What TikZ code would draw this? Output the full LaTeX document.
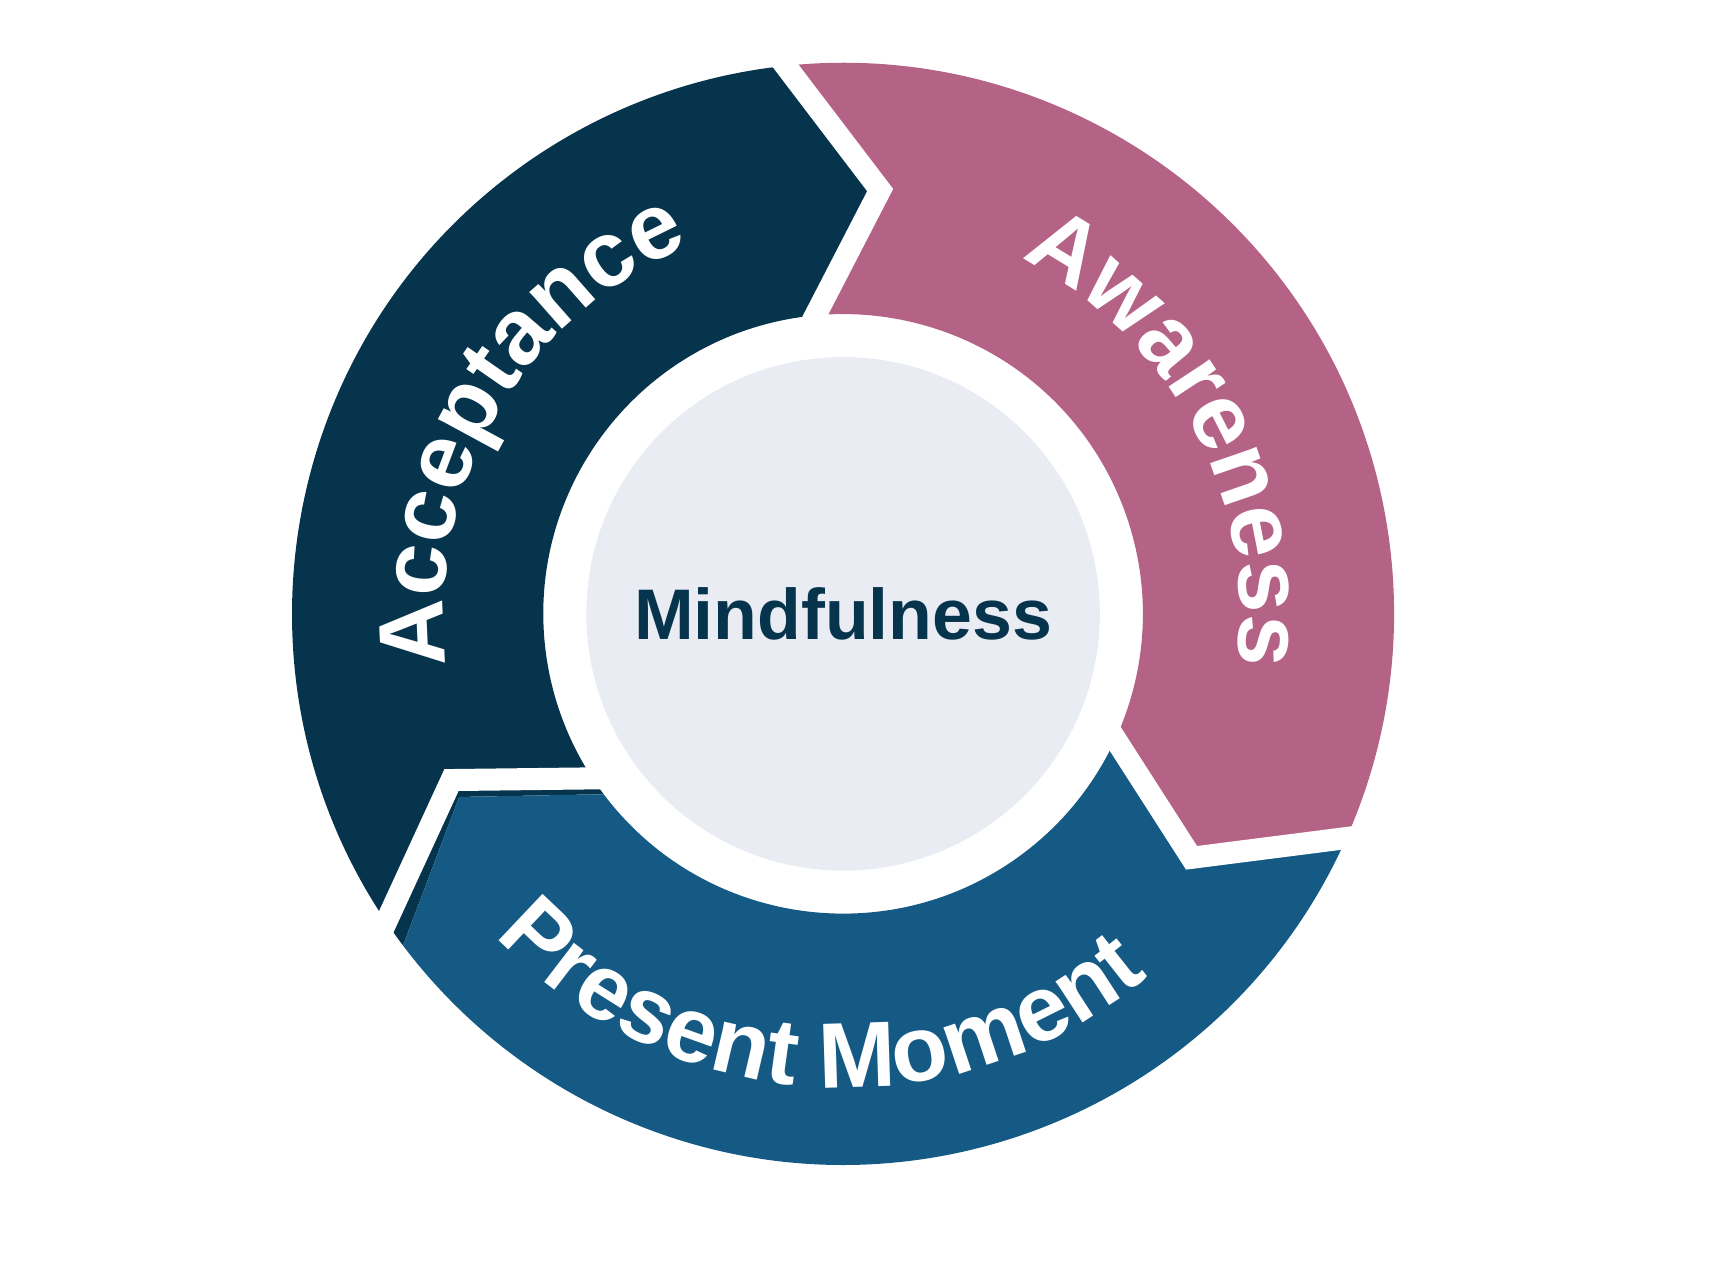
\documentclass[tikz,border=0pt]{standalone}
\usepackage{fontspec}
\setmainfont{Liberation Sans}
\usetikzlibrary{decorations.text}
\definecolor{accblue}{HTML}{06344C}
\definecolor{awapink}{HTML}{B56287}
\definecolor{preblue}{HTML}{155A85}
\definecolor{coreblue}{HTML}{E9EDF3}
\begin{document}
\begin{tikzpicture}
	[font=\bfseries,
	% STYLES
	% The ring style is used to cut the chevrons apart
	gap/.style={white, line width=0.2cm, line join=miter},
	% The label style is used to write along the ring
	ringtext/.style={decorate, decoration={text along path, text align=center,
		text={|\fontsize{24}{28}\selectfont\bfseries\color{white}|#1}}}]
	
	\useasboundingbox (0,0) rectangle (15.68,11.6);
	\coordinate (C) at (7.65,6.03);
	
	% Chevron segments of the ring
	\foreach \a/\b/\col in {217/97/accblue, 97/-23/awapink, 337/217/preblue}
	{
		\fill[\col, shift={(C)}] (\a:5) arc[start angle=\a, end angle=\b, radius=5]
		-- (\b-11.5:3.86) -- (\b:2.72) arc[start angle=\b, end angle=\a, radius=2.72]
		-- (\a-11.5:3.86) -- cycle;
	}
	
	% White cuts between the segments
	\foreach \t in {97,-23,215}
		\draw[gap, shift={(C)}] (\t:5.15) -- (\t-12:3.86) -- (\t:2.6);
	
	% Centre disc with its title
	\fill[coreblue] (C) circle (2.33);
	\node[text=accblue, font=\fontsize{18.5}{22}\selectfont\bfseries] (Mind) at (C) {Mindfulness};
	
	% Labels along the ring
	\path[ringtext=Acceptance, shift={(C)}] (210:3.62) arc[start angle=210, end angle=90, radius=3.62];
	\path[ringtext=Awareness, shift={(C)}] (88:3.6) arc[start angle=88, end angle=-32, radius=3.6];
	\path[ringtext=Present Moment, shift={(C)}] (200:4.3) arc[start angle=200, end angle=333, radius=4.3];
	
\end{tikzpicture}
\end{document}
